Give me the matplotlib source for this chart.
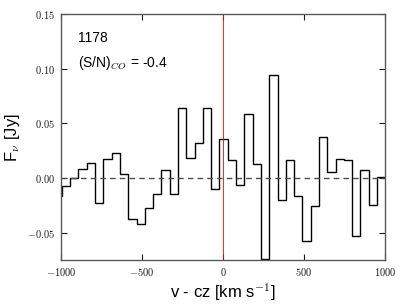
import matplotlib
matplotlib.use("Agg")
import matplotlib.pyplot as plt
import numpy as np
from matplotlib.ticker import FuncFormatter

plt.rcParams['font.family'] = ['Liberation Sans', 'DejaVu Sans']
plt.rcParams['mathtext.fontset'] = 'cm'

# channel centres (km/s) and flux density (Jy)
velocity = [-1019.4, -968.2, -917.0, -865.8, -814.6, -763.4, -712.2, -661.0,
            -609.8, -558.6, -507.4, -456.2, -405.0, -353.8, -302.6, -251.4,
            -200.2, -149.0, -97.8, -46.6, 4.6, 55.8, 107.0, 158.2, 209.4,
            260.6, 311.8, 363.0, 414.2, 465.4, 516.6, 567.8, 619.0, 670.2,
            721.4, 772.6, 823.8, 875.0, 926.2, 977.4]
flux = [-0.016, -0.0073, 0.0, 0.008, 0.0134, -0.0226, 0.017, 0.0226, 0.0034,
        -0.0378, -0.0416, -0.027, -0.0143, 0.007, -0.0147, 0.064, 0.018,
        0.0324, 0.0645, -0.0098, 0.0358, 0.0165, -0.0067, 0.0587, 0.0125,
        -0.0737, 0.0939, -0.0199, 0.0168, -0.0168, -0.058, -0.026, 0.0373,
        0.0052, 0.0171, 0.0168, -0.0532, 0.0076, -0.025, 0.0012]

source_id = "1178"
snr_co = -0.4

# bin edges from the centres
v = np.array(velocity)
mid = (v[1:] + v[:-1]) / 2
edges = np.concatenate([[v[0] - (mid[0] - v[0])], mid, [v[-1] + (v[-1] - mid[-1])]])

fig = plt.figure(figsize=(4.06, 3.05), dpi=100)
ax = fig.add_axes([0.150, 0.1475, 0.798, 0.806])

ax.stairs(flux, edges, color='black', lw=1.0)
ax.axhline(0, color='0.3', ls='--', lw=1.0, dashes=(4, 3))
ax.axvline(0, color='red', lw=0.6)

ax.set_xlim(-1000, 1000)
ax.set_ylim(-0.075, 0.15)
ax.set_xticks([-1000, -500, 0, 500, 1000])
ax.set_yticks([-0.05, 0.0, 0.05, 0.10, 0.15])
ax.xaxis.set_major_formatter(FuncFormatter(lambda x, p: r'$%d$' % x))
ax.yaxis.set_major_formatter(FuncFormatter(lambda y, p: r'$%.2f$' % y))
ax.tick_params(direction='in', top=True, right=True, length=4, width=0.8,
               labelsize=7.5, colors='0.1', pad=4)
for s in ax.spines.values():
    s.set_color('0.35')
    s.set_linewidth(1.0)

ax.set_xlabel(r'v - cz [km s$^{-1}$]', fontsize=12)
ax.set_ylabel(r'F$_\nu$ [Jy]', fontsize=12)
ax.xaxis.set_label_coords(0.5, -0.085)
ax.yaxis.set_label_coords(-0.12, 0.5)

ax.text(0.052, 0.93, source_id, transform=ax.transAxes, fontsize=10, va='top')
ax.text(0.052, 0.84, r'(S/N)$_{CO}$ = %.1f' % snr_co, transform=ax.transAxes,
        fontsize=10, va='top')

fig.savefig("out.png", dpi=100)
